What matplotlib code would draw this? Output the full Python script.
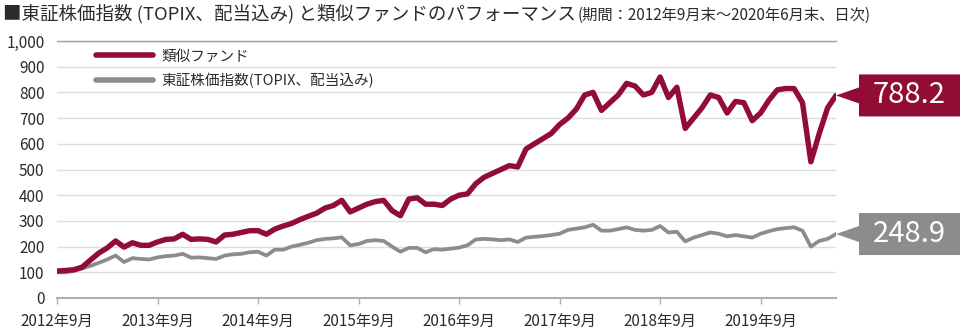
import matplotlib
matplotlib.use("Agg")
import matplotlib.pyplot as plt
import matplotlib.transforms as mtransforms
from matplotlib.patches import Polygon
import numpy as np

plt.rcParams['font.family'] = ['Noto Sans CJK JP', 'DejaVu Sans']

# ---- data (monthly, 2012-09 .. 2020-06) ----
fund = [105, 107, 110, 120, 148, 175, 195, 222, 198, 215, 205, 205,
        218, 228, 230, 248, 228, 230, 228, 218, 245, 248, 255, 262,
        262, 248, 268, 280, 290, 305, 318, 330, 350, 360, 380, 335,
        350, 365, 375, 380, 340, 320, 385, 390, 365, 365, 360, 385,
        400, 405, 445, 470, 485, 500, 515, 510, 580, 600, 620, 640,
        675, 700, 735, 790, 800, 730, 760, 790, 835, 825, 790, 800,
        860, 780, 820, 660, 700, 740, 790, 780, 720, 765, 760, 690,
        720, 770, 810, 815, 815, 760, 530, 640, 740, 788.2]
topix = [100, 100, 105, 115, 125, 137, 150, 165, 140, 155, 152, 150,
         158, 163, 165, 172, 157, 158, 155, 152, 165, 170, 172, 178,
         180, 165, 188, 188, 200, 207, 215, 225, 230, 232, 236, 205,
         210, 222, 225, 222, 200, 180, 195, 195, 178, 190, 188, 192,
         196, 205, 228, 230, 228, 225, 228, 218, 235, 238, 241, 245,
         250, 265, 270, 275, 285, 262, 262, 268, 275, 265, 262, 265,
         280, 255, 258, 220, 235, 245, 255, 250, 240, 245, 240, 235,
         250, 260, 268, 272, 275, 262, 200, 222, 230, 248.9]
xtick_labels = ['2012年9月', '2013年9月', '2014年9月', '2015年9月',
                '2016年9月', '2017年9月', '2018年9月', '2019年9月']
series_names = ['類似ファンド', '東証株価指数(TOPIX、配当込み)']
yticks = list(range(0, 1001, 100))

RED = '#920D35'
GRAY = '#8C8C8C'
TXT = '#2b2b2b'

W, H = 975, 333
fig = plt.figure(figsize=(W / 100, H / 100), dpi=100)
ax = fig.add_axes([57 / W, 1 - 298 / H, (836 - 57) / W, (298 - 41) / H])

months = np.arange(len(fund))
ax.plot(months, topix, color=GRAY, lw=2.7, solid_capstyle='round',
        solid_joinstyle='round', zorder=3, label=series_names[1])
ax.plot(months, fund, color=RED, lw=3.9, solid_capstyle='round',
        solid_joinstyle='round', zorder=4, label=series_names[0])

ax.set_xlim(0, months[-1])
ax.set_ylim(0, 1000)
ax.set_yticks(yticks)
ax.set_yticklabels([f'{v:,}' for v in yticks])
ax.set_xticks(np.arange(0, len(fund), 12)[:len(xtick_labels)])
ax.set_xticklabels(xtick_labels)
ax.yaxis.grid(True, color='#dedede', lw=1.0)
ax.set_axisbelow(True)
for s in ['left', 'right']:
    ax.spines[s].set_visible(False)
ax.spines['top'].set_color('#a0a0a0')
ax.spines['top'].set_linewidth(1.0)
ax.spines['bottom'].set_color('#b0b0b0')
ax.spines['bottom'].set_linewidth(1.5)
ax.tick_params(axis='y', length=0, pad=9, labelsize=11, labelcolor=TXT)
ax.tick_params(axis='x', length=4, width=1, color='#b0b0b0', pad=7,
               labelsize=11, labelcolor=TXT)

# legend
h, l = ax.get_legend_handles_labels()
leg = ax.legend(h[::-1], l[::-1], loc='upper left', bbox_to_anchor=(0.043, 0.99),
                frameon=False, fontsize=10.5, handlelength=3.9, handletextpad=0.55,
                labelspacing=0.62, borderaxespad=0.0)
for t in leg.get_texts():
    t.set_color(TXT)
for ln in leg.get_lines():
    ln.set_linewidth(4.0)

# value callouts
trans = mtransforms.blended_transform_factory(ax.transAxes, ax.transData)
axw = 836 - 57
bx0 = (859 - 57) / axw
bx1 = (960 - 57) / axw
half_h = 21 / 257 * 1000
arrow_h = 8 / 257 * 1000
for vals, col in [(fund, RED), (topix, GRAY)]:
    v = vals[-1]
    pts = [(1.0, v), (bx0, v + arrow_h), (bx0, v + half_h), (bx1, v + half_h),
           (bx1, v - half_h), (bx0, v - half_h), (bx0, v - arrow_h)]
    ax.add_patch(Polygon(pts, closed=True, transform=trans, facecolor=col,
                         edgecolor='none', clip_on=False, zorder=5))
    ax.text((bx0 + bx1) / 2, v, f'{v:.1f}', transform=trans, color='white',
            fontsize=21, ha='center', va='center', clip_on=False, zorder=6)

# title
t1 = fig.text(3 / W, 1 - 14 / H, '■東証株価指数 (TOPIX、配当込み) と類似ファンドのパフォーマンス',
              fontsize=13.3, color=TXT, va='center', ha='left')
fig.canvas.draw()
bb = t1.get_window_extent()
fig.text(bb.x1 / W + 0.002, 1 - 15 / H, '(期間：2012年9月末～2020年6月末、日次)',
         fontsize=11, color=TXT, va='center', ha='left')

fig.savefig('out.png', dpi=100)
